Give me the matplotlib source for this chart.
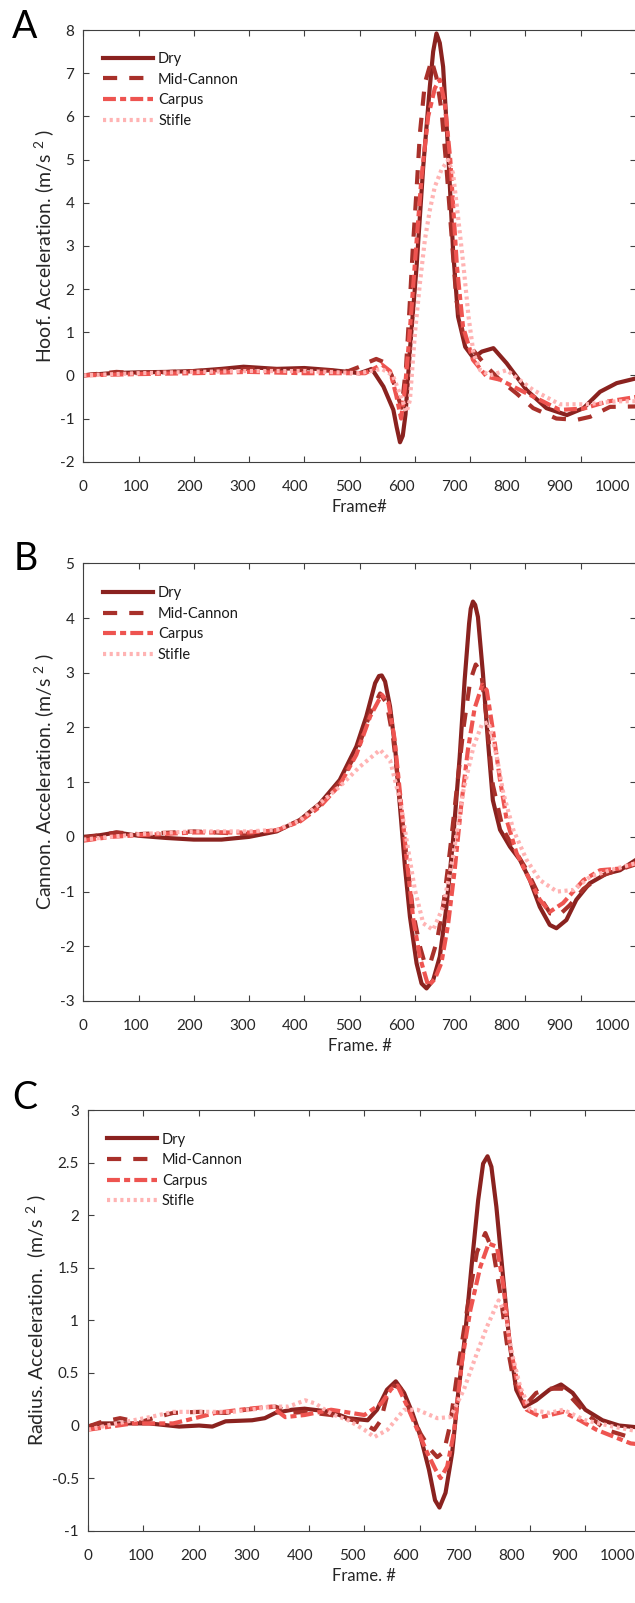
import matplotlib.pyplot as plt
from matplotlib.ticker import FormatStrFormatter
from matplotlib.transforms import ScaledTranslation

plt.rcParams["font.family"] = ["Lato", "DejaVu Sans"]
plt.rcParams["mathtext.fontset"] = "custom"
plt.rcParams["mathtext.rm"] = "Lato"
plt.rcParams["mathtext.it"] = "Lato:italic"
plt.rcParams["axes.unicode_minus"] = False

LABELS = ["Dry", "Mid-Cannon", "Carpus", "Stifle"]

# ---- panel A: hoof ----
a_dry_f = [0, 50, 100, 150, 200, 250, 290, 350, 400, 450, 500, 522, 543, 561, 567, 573, 578, 583, 591,
           603, 615, 627, 633, 639, 645, 651, 660, 669, 678, 691, 706, 721, 742, 766, 802, 838, 875,
           905, 935, 965, 1000]
a_dry_v = [0.0, 0.05, 0.07, 0.08, 0.1, 0.15, 0.2, 0.15, 0.17, 0.12, 0.05, 0.15, -0.26, -0.8, -1.2, -1.55,
           -1.4, -0.9, 0.59, 2.52, 4.83, 6.69, 7.5, 7.92, 7.7, 7.15, 5.22, 2.9, 1.36, 0.66, 0.4, 0.55,
           0.63, 0.28, -0.34, -0.76, -0.92, -0.76, -0.38, -0.18, -0.07]
a_mid_f = [0, 60, 100, 200, 300, 400, 480, 500, 515, 530, 545, 558, 568, 576, 584, 590, 596, 603, 609,
           618, 630, 639, 648, 657, 666, 675, 687, 705, 730, 754, 784, 814, 856, 893, 917, 953, 1000]
a_mid_v = [0.0, 0.08, 0.05, 0.1, 0.15, 0.12, 0.1, 0.2, 0.3, 0.38, 0.3, 0.0, -0.45, -0.75, 0.2, 1.5, 2.9,
           4.3, 5.6, 6.77, 7.3, 6.9, 6.15, 4.83, 3.29, 1.75, 0.97, 0.59, 0.2, -0.11, -0.42, -0.76, -1.0,
           -1.03, -0.96, -0.73, -0.72]
a_carp_f = [0, 100, 200, 300, 400, 480, 510, 540, 555, 566, 575, 582, 590, 600, 612, 624, 636, 645,
            654, 664, 676, 687, 705, 730, 754, 784, 814, 862, 905, 947, 1000]
a_carp_v = [0.0, 0.03, 0.05, 0.08, 0.05, 0.05, 0.05, 0.25, 0.1, -0.45, -1.0, -0.3, 0.9, 2.6, 4.6, 6.0,
            6.65, 6.85, 6.3, 4.99, 2.52, 1.13, 0.36, -0.03, -0.1, -0.3, -0.49, -0.8, -0.77, -0.61, -0.5]
a_stif_f = [0, 100, 200, 300, 400, 500, 540, 560, 575, 585, 591, 600, 609, 618, 627, 636, 648, 660,
            669, 678, 688, 697, 706, 718, 736, 766, 814, 862, 910, 965, 1000]
a_stif_v = [0.0, 0.05, 0.08, 0.1, 0.1, 0.05, 0.15, 0.0, -0.5, -0.85, -0.57, 0.97, 2.13, 3.14, 3.83,
            4.37, 4.76, 4.99, 4.68, 3.68, 2.52, 1.36, 0.51, 0.12, 0.0, 0.12, -0.34, -0.67, -0.67, -0.6,
            -0.6]

# ---- panel B: cannon ----
b_dry_f = [0, 30, 60, 100, 150, 200, 250, 300, 350, 392, 428, 464, 494, 512, 528, 535, 540, 546, 555,
           564, 573, 582, 591, 603, 612, 621, 633, 645, 657, 669, 681, 690, 698, 701, 705, 709, 714,
           723, 732, 741, 754, 772, 790, 808, 826, 844, 856, 874, 892, 916, 947, 971, 1000]
b_dry_v = [0.0, 0.03, 0.08, 0.02, -0.02, -0.05, -0.05, 0.0, 0.1, 0.31, 0.61, 1.04, 1.65, 2.2, 2.81,
           2.94, 2.95, 2.84, 2.38, 1.65, 0.55, -0.55, -1.46, -2.31, -2.68, -2.77, -2.62, -2.19, -1.28,
           -0.06, 1.46, 2.87, 3.9, 4.17, 4.3, 4.24, 4.02, 2.99, 1.77, 0.67, 0.13, -0.18, -0.42, -0.79,
           -1.28, -1.61, -1.67, -1.52, -1.15, -0.85, -0.67, -0.61, -0.42]
b_mid_f = [0, 60, 100, 200, 300, 350, 392, 428, 464, 494, 519, 537, 549, 561, 573, 585, 597, 609, 618,
           628, 640, 652, 664, 676, 688, 700, 710, 720, 730, 741, 759, 778, 802, 826, 845, 862, 880,
           905, 940, 970, 1000]
b_mid_v = [-0.02, 0.08, 0.05, 0.1, 0.05, 0.12, 0.3, 0.58, 1.0, 1.53, 2.26, 2.62, 2.44, 1.77, 0.7, -0.4,
           -1.4, -2.0, -2.32, -2.3, -1.9, -1.2, -0.2, 0.9, 2.0, 2.85, 3.15, 3.0, 2.14, 0.95, 0.15, -0.2,
           -0.6, -1.1, -1.4, -1.42, -1.25, -0.95, -0.7, -0.6, -0.5]
b_carp_f = [0, 50, 100, 200, 300, 350, 392, 428, 464, 494, 519, 540, 552, 563, 573, 585, 597, 609,
            624, 636, 648, 660, 672, 684, 696, 708, 722, 730, 742, 754, 766, 784, 802, 826, 844, 868,
            905, 935, 970, 1000]
b_carp_v = [-0.07, 0.0, 0.03, 0.08, 0.08, 0.12, 0.28, 0.55, 0.95, 1.5, 2.2, 2.6, 2.45, 1.8, 0.8, -0.4,
            -1.5, -2.2, -2.72, -2.6, -2.3, -1.6, -0.6, 0.6, 1.6, 2.35, 2.78, 2.68, 1.89, 1.04, 0.31,
            -0.3, -0.67, -1.15, -1.37, -1.21, -0.79, -0.61, -0.58, -0.48]
b_stif_f = [0, 100, 200, 300, 350, 392, 428, 464, 500, 537, 555, 573, 585, 600, 615, 633, 651, 669,
            688, 706, 721, 733, 748, 760, 778, 802, 826, 857, 887, 917, 953, 1000]
b_stif_v = [-0.05, 0.05, 0.1, 0.1, 0.13, 0.3, 0.61, 0.92, 1.28, 1.59, 1.4, 0.67, -0.06, -0.97, -1.58,
            -1.7, -1.28, -0.36, 0.86, 1.65, 2.05, 2.1, 1.47, 0.8, 0.13, -0.42, -0.79, -1.0, -0.97, -0.73,
            -0.61, -0.48]

# ---- panel C: radius ----
c_dry_f = [0, 22, 111, 165, 201, 225, 249, 297, 320, 339, 369, 392, 440, 470, 506, 523, 541, 557, 572,
           587, 602, 617, 628, 636, 647, 659, 670, 682, 694, 706, 715, 723, 730, 739, 751, 763, 775,
           790, 811, 835, 856, 877, 900, 931, 961, 1000]
c_dry_v = [-0.01, 0.02, 0.02, -0.01, 0.0, -0.01, 0.04, 0.05, 0.07, 0.12, 0.15, 0.16, 0.13, 0.07, 0.05,
           0.15, 0.34, 0.42, 0.31, 0.12, -0.11, -0.42, -0.71, -0.78, -0.64, -0.26, 0.31, 0.84, 1.51,
           2.14, 2.49, 2.56, 2.46, 2.08, 1.42, 0.78, 0.34, 0.18, 0.24, 0.34, 0.39, 0.31, 0.15, 0.05, 0.0,
           -0.02]
c_mid_f = [0, 22, 58, 94, 118, 154, 201, 249, 285, 339, 369, 392, 440, 480, 505, 518, 530, 542, 553,
           565, 572, 584, 602, 620, 632, 644, 655, 667, 680, 692, 704, 719, 734, 746, 758, 770, 794,
           811, 835, 860, 900, 937, 980, 1000]
c_mid_v = [-0.01, 0.03, 0.07, 0.03, 0.07, 0.12, 0.13, 0.12, 0.15, 0.18, 0.12, 0.13, 0.1, 0.05, 0.0,
           -0.04, 0.05, 0.3, 0.38, 0.36, 0.28, 0.12, -0.08, -0.23, -0.3, -0.25, 0.0, 0.45, 0.9, 1.3,
           1.65, 1.83, 1.64, 1.26, 0.78, 0.43, 0.21, 0.31, 0.35, 0.35, 0.12, -0.04, -0.11, -0.12]
c_carp_f = [0, 81, 154, 178, 231, 291, 332, 357, 392, 440, 500, 531, 549, 560, 578, 596, 614, 629,
            638, 650, 662, 677, 692, 710, 725, 740, 752, 763, 776, 794, 820, 860, 890, 920, 982, 1000]
c_carp_v = [-0.04, 0.02, 0.02, 0.05, 0.12, 0.16, 0.18, 0.08, 0.1, 0.15, 0.1, 0.21, 0.35, 0.38, 0.18,
            -0.04, -0.26, -0.42, -0.5, -0.39, -0.07, 0.62, 1.1, 1.51, 1.73, 1.7, 1.32, 0.78, 0.43, 0.15,
            0.08, 0.13, 0.05, -0.04, -0.17, -0.18]
c_stif_f = [0, 52, 112, 154, 201, 262, 308, 332, 363, 393, 411, 441, 471, 500, 518, 542, 572, 596, 632,
            656, 680, 704, 722, 743, 755, 767, 782, 800, 835, 860, 900, 950, 1000]
c_stif_v = [-0.04, 0.02, 0.08, 0.13, 0.13, 0.13, 0.16, 0.18, 0.18, 0.24, 0.21, 0.11, 0.05, -0.04, -0.11,
            -0.04, 0.15, 0.15, 0.07, 0.08, 0.34, 0.69, 0.94, 1.19, 1.07, 0.69, 0.37, 0.15, 0.12, 0.15,
            0.05, -0.01, -0.06]

COLORS = ["#8a221f", "#a8302a", "#ee5450", "#ffb3b3"]
DASHES = [None, (3.4, 2.9), (3.1, 1.0, 1.45, 1.0), (0.75, 0.85)]
TEXT = "#262626"

fig = plt.figure(figsize=(6.35, 16.03), dpi=100)
W, H = 635, 1603


def px_axes(left, right, top, bottom):
    return fig.add_axes([left / W, 1 - bottom / H, (right - left) / W, (bottom - top) / H])


def draw_panel(ax, series, ylim, ystep, ylabel, xlabel, ylab_x, leg_xy):
    for (f, v), label, color, dash in zip(series, LABELS, COLORS, DASHES):
        line, = ax.plot(f, v, color=color, lw=3, label=label,
                        solid_joinstyle="round", dash_capstyle="butt")
        if dash is not None:
            line.set_dashes(dash)
    ax.set_xlim(0, 1000)
    ax.set_ylim(*ylim)
    ax.set_xticks(range(0, 1001, 100))
    n = int(round((ylim[1] - ylim[0]) / ystep))
    ax.set_yticks([ylim[0] + i * ystep for i in range(n + 1)])
    ax.yaxis.set_major_formatter(FormatStrFormatter("%g"))
    ax.tick_params(direction="in", top=True, right=True, length=4.5, width=0.8,
                   labelsize=11, labelcolor=TEXT, color="#404040")
    ax.tick_params(axis="x", pad=13)
    ax.tick_params(axis="y", pad=6.5)
    for s in ax.spines.values():
        s.set_color("#404040")
        s.set_linewidth(0.8)
    ax.set_ylabel(ylabel, fontsize=14, color=TEXT)
    ax.set_xlabel(xlabel, fontsize=12, color=TEXT)
    ax.yaxis.set_label_coords(ylab_x, 0.5)
    ax.xaxis.set_label_coords(0.5, -37 / (ax.get_position().height * H))
    leg = ax.legend(loc="upper left", bbox_to_anchor=leg_xy, frameon=False, fontsize=10.5,
                    handlelength=3.45, handletextpad=0.33, labelspacing=0.45,
                    borderpad=0, borderaxespad=0)
    for t in leg.get_texts():
        t.set_color("#1a1a1a")
    # the printed tick labels sit slightly left of their ticks in the original
    for val, lab in zip(ax.get_xticks(), ax.get_xticklabels()):
        lab.set_transform(lab.get_transform()
                          + ScaledTranslation(-0.023 * val / 100, 0, fig.dpi_scale_trans))


ax_a = px_axes(83.3, 636, 30, 461.7)
draw_panel(ax_a, [(a_dry_f, a_dry_v), (a_mid_f, a_mid_v), (a_carp_f, a_carp_v), (a_stif_f, a_stif_v)],
           (-2, 8), 1, r"Hoof. Acceleration. (m/s $^{2}$ )", "Frame#", -0.049, (0.0356, 0.949))

ax_b = px_axes(83.3, 636, 563.3, 1001)
draw_panel(ax_b, [(b_dry_f, b_dry_v), (b_mid_f, b_mid_v), (b_carp_f, b_carp_v), (b_stif_f, b_stif_v)],
           (-3, 5), 1, r"Cannon. Acceleration. (m/s $^{2}$ )", "Frame. #", -0.049, (0.035, 0.948))

ax_c = px_axes(88, 640.6, 1110, 1530.7)
draw_panel(ax_c, [(c_dry_f, c_dry_v), (c_mid_f, c_mid_v), (c_carp_f, c_carp_v), (c_stif_f, c_stif_v)],
           (-1, 3), 0.5, r"Radius. Acceleration.  (m/s $^{2}$ )", "Frame. #", -0.073, (0.0338, 0.9465))

for letter, x, y in [("A", 12, 38.5), ("B", 14, 570), ("C", 12, 1109)]:
    fig.text(x / W, 1 - y / H, letter, fontsize=27, color="black", va="baseline", ha="left")

fig.savefig("out.png", dpi=100)
